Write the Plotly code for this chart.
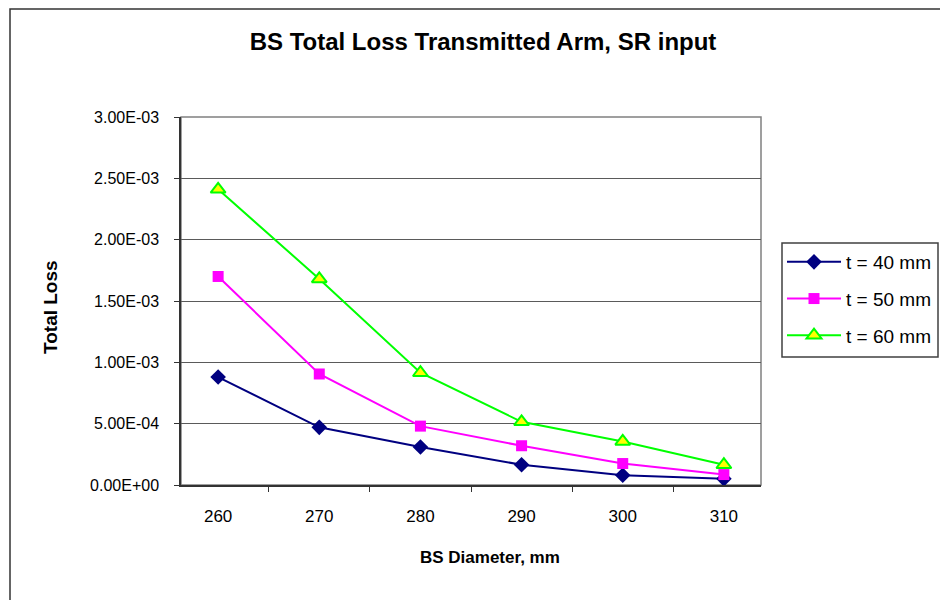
import plotly.graph_objects as go

# ── Data ──────────────────────────────────────────────────────────────────────
diameters = ["260", "270", "280", "290", "300", "310"]

loss_t40 = [0.88e-3, 0.47e-3, 0.31e-3, 0.165e-3, 0.08e-3, 0.05e-3]
loss_t50 = [1.70e-3, 0.905e-3, 0.48e-3, 0.32e-3, 0.175e-3, 0.085e-3]
loss_t60 = [2.41e-3, 1.68e-3, 0.915e-3, 0.515e-3, 0.355e-3, 0.165e-3]

y_tickvals = [0, 0.5e-3, 1.0e-3, 1.5e-3, 2.0e-3, 2.5e-3, 3.0e-3]
y_ticktext = ["0.00E+00", "5.00E-04", "1.00E-03", "1.50E-03",
              "2.00E-03", "2.50E-03", "3.00E-03"]

FONT = "Liberation Sans, Arial, sans-serif"

# page body has a default 8px margin -> shift everything up/left by 8px
OFF = 8
W, H = 948, 600
PL, PT, PW, PH = 181, 117, 580, 368   # plot area in the reference (px)

def px_x(x):
    return (x - PL) / PW

def px_y(y):
    return (PT + PH - y) / PH

# ── Figure ────────────────────────────────────────────────────────────────────
fig = go.Figure()

series = [
    ("t = 40 mm", loss_t40, dict(symbol="diamond", size=12, color="#000080",
                                 line=dict(width=0)), "#000080"),
    ("t = 50 mm", loss_t50, dict(symbol="square", size=11, color="#FF00FF",
                                 line=dict(width=0)), "#FF00FF"),
    ("t = 60 mm", loss_t60, dict(symbol="triangle-up", size=13, color="#FFFF00",
                                 line=dict(width=2, color="#00FF00")), "#00FF00"),
]
for i, (name, vals, marker, lc) in enumerate(series):
    fig.add_trace(go.Scatter(
        x=diameters, y=vals, name=name, mode="lines+markers",
        line=dict(color=lc, width=2), marker=marker,
        legendgroup=f"g{i}",
    ))

# outer chart border (only left/top edges visible in the frame)
fig.add_shape(type="rect", xref="paper", yref="paper",
              x0=px_x(10), x1=2, y0=-2, y1=px_y(9),
              line=dict(color="#333333", width=1.5), layer="above")
# plot-area frame
fig.add_shape(type="rect", xref="paper", yref="paper",
              x0=0, x1=1, y0=0, y1=1,
              line=dict(color="#808080", width=1.5), layer="between")
# legend box (drawn as a shape so it can be as wide as the reference)
fig.add_shape(type="rect", xref="paper", yref="paper",
              x0=px_x(782), x1=px_x(938), y0=px_y(357), y1=px_y(243),
              fillcolor="white", line=dict(color="#404040", width=1.5),
              layer="above")

# axis titles as annotations (placed like the reference)
fig.add_annotation(text="<b>BS Diameter, mm</b>", xref="paper", yref="paper",
                   x=px_x(490), y=px_y(557), xanchor="center", yanchor="middle",
                   showarrow=False, font=dict(size=17))
fig.add_annotation(text="<b>Total Loss</b>", xref="paper", yref="paper",
                   x=px_x(50), y=px_y(307), xanchor="center", yanchor="middle",
                   textangle=-90, showarrow=False, font=dict(size=19))

fig.update_layout(
    width=W, height=H,
    margin=dict(l=PL - OFF, r=W - (PL - OFF) - PW, t=PT - OFF, b=H - (PT - OFF) - PH),
    paper_bgcolor="white", plot_bgcolor="white",
    font=dict(family=FONT, size=16, color="black"),
    title=dict(text="<b>BS Total Loss Transmitted Arm, SR input</b>",
               x=(483 - OFF) / W, xanchor="center", y=1 - (42 - OFF) / H,
               yanchor="middle", font=dict(size=24)),
    legend=dict(x=px_x(782), y=px_y(243), xanchor="left", yanchor="top",
                bgcolor="rgba(0,0,0,0)", borderwidth=0,
                font=dict(size=19), tracegroupgap=9, itemwidth=54),
    showlegend=True,
)

fig.update_xaxes(
    type="category", tickson="boundaries",
    showline=True, linecolor="#333333", linewidth=1.5,
    ticks="outside", ticklen=5, tickcolor="#333333",
    showgrid=False, ticklabelstandoff=15,
    tickfont=dict(size=17),
)
fig.update_yaxes(
    range=[0, 3.0e-3], tickvals=y_tickvals, ticktext=y_ticktext,
    showline=True, linecolor="#333333", linewidth=1.5,
    ticks="outside", ticklen=5, tickcolor="#333333",
    showgrid=True, gridcolor="#5a5a5a", gridwidth=1, zeroline=False,
    ticklabelstandoff=12, tickfont=dict(size=16),
)

fig.write_html("out.html")
